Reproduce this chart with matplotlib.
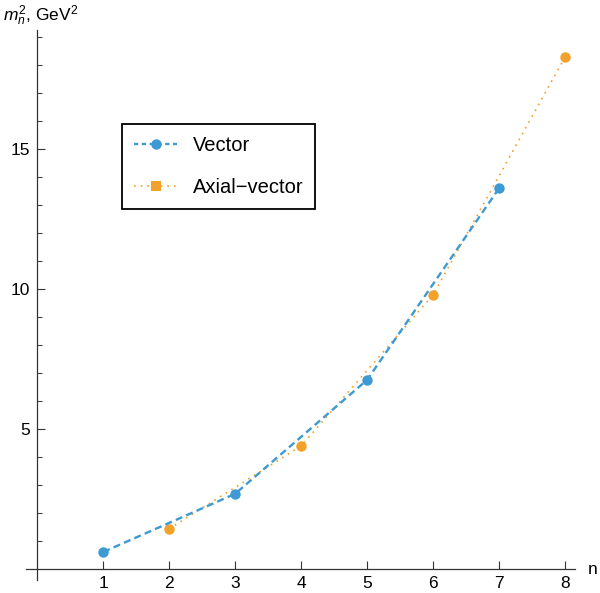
import matplotlib
matplotlib.use("Agg")
import matplotlib.pyplot as plt
from matplotlib.lines import Line2D

plt.rcParams['font.family'] = ['Liberation Sans', 'DejaVu Sans']
plt.rcParams['mathtext.fontset'] = 'custom'
plt.rcParams['mathtext.rm'] = 'Liberation Sans'
plt.rcParams['mathtext.it'] = 'Liberation Sans:italic'

# Data
vector_n = [1, 3, 5, 7]
vector_m2 = [0.60, 2.68, 6.75, 13.60]
axial_n = [2, 4, 6, 8]
axial_m2 = [1.43, 4.39, 9.79, 18.29]

x_ticks = [1, 2, 3, 4, 5, 6, 7, 8]
y_ticks = [5, 10, 15]

blue = '#3d9ad2'
orange = '#f2a12a'

fig = plt.figure(figsize=(6.0, 5.93), dpi=100)
ax = fig.add_axes([26/600, 1-580/593, 549/600, 550/593])
ax.set_xlim(-0.17, 8.15)
ax.set_ylim(-0.4, 19.25)

ax.plot(vector_n, vector_m2, color=blue, lw=1.7, linestyle=(0, (3, 1.8)),
        marker='o', markersize=7.5, markeredgewidth=0, zorder=3)
ax.plot(axial_n, axial_m2, color=orange, lw=1.2, linestyle=(0, (1, 3)),
        marker='o', markersize=7.5, markeredgewidth=0, zorder=2)

for s in ['top', 'right']:
    ax.spines[s].set_visible(False)
ax.spines['left'].set_position(('data', 0))
ax.spines['bottom'].set_position(('data', 0))
for s in ['left', 'bottom']:
    ax.spines[s].set_linewidth(0.9)
    ax.spines[s].set_color('#333333')

ax.set_xticks(x_ticks)
ax.set_yticks(y_ticks)
ax.set_yticks(list(range(1, 20)), minor=True)
ax.tick_params(axis='both', direction='in', length=6, width=0.8, color='#333333',
               labelsize=12.5)
ax.tick_params(axis='y', which='minor', direction='in', length=3.5, width=0.7, color='#333333')
ax.tick_params(axis='x', pad=5)
ax.tick_params(axis='y', pad=5)

fig.text(0.005, 1-4/593, r'$m_n^2$, GeV$^2$', fontsize=12.5, ha='left', va='top')
fig.text(588/600, 1-570/593, 'n', fontsize=12.5, ha='left', va='center')

handles = [
    Line2D([], [], color=blue, lw=1.7, linestyle=(0, (1.8, 1.5)), marker='o',
           markersize=7.5, markeredgewidth=0),
    Line2D([], [], color=orange, lw=1.2, linestyle=(0, (1, 3)), marker='s',
           markersize=7, markeredgewidth=0),
]
leg = ax.legend(handles, ['Vector', 'Axial\u2212vector'], loc='upper left',
                bbox_to_anchor=(122/600, 1-124/593), bbox_transform=fig.transFigure,
                borderaxespad=0, fancybox=False, edgecolor='black', framealpha=1,
                fontsize=14.5, handlelength=2.15, handletextpad=0.75,
                labelspacing=1.12, borderpad=0.6)
leg.get_frame().set_linewidth(1.3)

fig.savefig('out.png', dpi=100)
